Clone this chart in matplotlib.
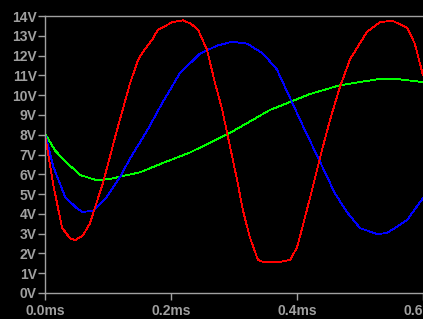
import matplotlib
matplotlib.use("Agg")
import matplotlib.pyplot as plt

# LTspice-style transient plot
t_red = [0, 0.013, 0.027, 0.04, 0.048, 0.06, 0.071, 0.092, 0.114, 0.135, 0.148,
         0.156, 0.170, 0.179, 0.203, 0.219, 0.232, 0.243, 0.257, 0.27, 0.281,
         0.289, 0.305, 0.314, 0.325, 0.338, 0.346, 0.373, 0.389, 0.40, 0.41,
         0.421, 0.437, 0.452, 0.468, 0.484, 0.511, 0.532, 0.552, 0.575, 0.587, 0.6]
v_red = [8.0, 5.5, 3.3, 2.75, 2.68, 2.9, 3.5, 5.56, 8.2, 10.6, 11.8,
         12.2, 12.8, 13.3, 13.7, 13.78, 13.6, 13.3, 12.3, 10.6, 9.3,
         8.1, 5.7, 4.2, 2.83, 1.67, 1.57, 1.57, 1.67, 2.3, 3.5,
         4.85, 6.9, 8.7, 10.4, 11.8, 13.2, 13.7, 13.75, 13.4, 12.6, 11.0]

t_blue = [0, 0.013, 0.032, 0.05, 0.059, 0.076, 0.098, 0.119, 0.135, 0.162, 0.186,
          0.214, 0.246, 0.273, 0.297, 0.321, 0.346, 0.368, 0.392, 0.41, 0.437,
          0.46, 0.479, 0.5, 0.527, 0.543, 0.575, 0.6]
v_blue = [8.05, 6.4, 4.85, 4.3, 4.1, 4.15, 4.85, 5.86, 6.8, 8.2, 9.6,
          11.1, 12.1, 12.5, 12.7, 12.6, 12.1, 11.3, 9.65, 8.4, 6.6,
          5.05, 4.1, 3.28, 2.98, 3.03, 3.7, 4.8]

t_green = [0, 0.016, 0.035, 0.056, 0.082, 0.103, 0.13, 0.151, 0.187, 0.23, 0.262,
           0.294, 0.357, 0.421, 0.468, 0.527, 0.563, 0.6]
v_green = [8.05, 7.2, 6.57, 5.96, 5.7, 5.76, 5.96, 6.1, 6.57, 7.1, 7.6,
           8.1, 9.25, 10.06, 10.5, 10.8, 10.8, 10.66]

y_ticks = list(range(0, 15))
y_labels = [f"{v}V" for v in y_ticks]
x_ticks = [0.0, 0.2, 0.4, 0.6]
x_labels = ["0.0ms", "0.2ms", "0.4ms", "0.6ms"]

gray = "#a0a0a0"
W, H = 423, 319
fig = plt.figure(figsize=(W / 100, H / 100), dpi=100, facecolor="black")
ax = fig.add_axes([45 / W, 26 / H, 378 / W, 277 / H], facecolor="black")

ax.plot(t_green, v_green, color="#00ff00", lw=0.6, antialiased=False)
ax.plot(t_blue, v_blue, color="#0000ff", lw=0.6, antialiased=False)
ax.plot(t_red, v_red, color="#ff0000", lw=0.6, antialiased=False)

ax.set_xlim(0, 0.6)
ax.set_ylim(0, 14)
ax.set_yticks(y_ticks, y_labels)
ax.set_xticks(x_ticks, x_labels)

for side in ["left", "top", "bottom"]:
    ax.spines[side].set_color(gray)
    ax.spines[side].set_linewidth(1.0)
ax.spines["right"].set_visible(False)

ax.tick_params(colors=gray, length=5, width=1.0, direction="out")
ax.tick_params(axis="y", pad=1)
ax.tick_params(axis="x", pad=3)
for lab in ax.get_xticklabels() + ax.get_yticklabels():
    lab.set_fontfamily("Liberation Sans")
    lab.set_fontweight("bold")
    lab.set_fontsize(10)
    lab.set_color(gray)

fig.savefig("out.png", dpi=100, facecolor="black")
